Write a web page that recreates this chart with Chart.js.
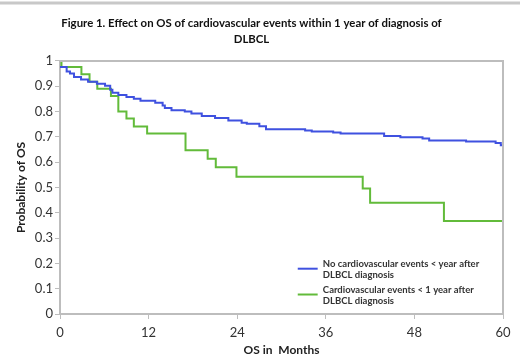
<!DOCTYPE html>
<html>
<head>
<meta charset="utf-8">
<script src="https://cdn.jsdelivr.net/npm/chart.js@4"></script>
<style>
  html, body { margin: 0; padding: 0; background: #fff; }
  #wrap { width: 520px; height: 357px; position: relative; }
</style>
</head>
<body>
<div id="wrap"><canvas id="km"></canvas></div>
<script>
// Kaplan-Meier steps (months, probability)
var monthsNoCV = [0, 0.9, 1.35, 1.9, 2.85, 3.8, 5.0, 6.1, 6.8, 7.1, 7.9, 9.0, 10.0, 10.9, 12.9, 13.9, 14.2, 15.1, 16.9, 17.8, 19.2, 21.0, 22.8, 24.6, 25.3, 27.0, 27.9, 33.2, 34.1, 37.0, 38.0, 43.9, 46.1, 49.1, 50.0, 55.0, 59.0, 59.7, 60];
var survNoCV   = [0.976, 0.958, 0.95, 0.936, 0.927, 0.918, 0.91, 0.902, 0.886, 0.874, 0.865, 0.857, 0.851, 0.843, 0.835, 0.824, 0.814, 0.805, 0.80, 0.792, 0.782, 0.774, 0.765, 0.756, 0.752, 0.742, 0.73, 0.725, 0.721, 0.717, 0.713, 0.703, 0.698, 0.693, 0.686, 0.682, 0.676, 0.667, 0.667];

var monthsCV = [0, 0.2, 2.9, 4.0, 5.05, 6.9, 7.9, 9.0, 10.0, 11.8, 17.0, 20.0, 21.1, 23.9, 41.0, 42.0, 52.0, 60];
var survCV   = [1.0, 0.976, 0.947, 0.918, 0.89, 0.861, 0.80, 0.772, 0.741, 0.713, 0.647, 0.613, 0.58, 0.542, 0.496, 0.44, 0.367, 0.367];

var xTicks = [0, 12, 24, 36, 48, 60];
var legendNoCV = ['No cardiovascular events < year after', 'DLBCL diagnosis'];
var legendCV = ['Cardiovascular events < 1 year after', 'DLBCL diagnosis'];

function toPoints(xs, ys) {
  return xs.map(function (x, i) { return { x: x, y: ys[i] }; });
}

var frame = {
  id: 'frame',
  beforeDraw: function (chart) {
    var c = chart.ctx;
    c.save();
    c.strokeStyle = '#c8c8c8';
    c.lineWidth = 3;
    c.beginPath();
    c.moveTo(0, 3); c.lineTo(520, 3);
    c.stroke();
    c.restore();
  },
  afterDatasetsDraw: function (chart) {
    var a = chart.chartArea, c = chart.ctx;
    c.save();
    c.strokeStyle = '#bdbdbd';
    c.lineWidth = 2;
    c.beginPath();
    c.moveTo(a.left, a.top); c.lineTo(a.right, a.top); c.lineTo(a.right, a.bottom);
    c.stroke();

    // legend inside plot, two-line labels
    var x = chart.scales.x, y = chart.scales.y;
    var rows = [
      { ds: chart.data.datasets[0], yy: y.getPixelForValue(0.179) },
      { ds: chart.data.datasets[1], yy: y.getPixelForValue(0.077) }
    ];
    c.font = 'bold 9.5px Lato, sans-serif';
    c.textBaseline = 'middle';
    c.fillStyle = '#333';
    rows.forEach(function (r) {
      c.strokeStyle = r.ds.borderColor;
      c.lineWidth = 2;
      c.beginPath();
      c.moveTo(x.getPixelForValue(32.2), r.yy); c.lineTo(x.getPixelForValue(34.9), r.yy);
      c.stroke();
      r.ds.legendLines.forEach(function (t, i) {
        c.fillText(t, x.getPixelForValue(35.6), r.yy - 5 + i * 11);
      });
    });
    c.restore();
  }
};

new Chart(document.getElementById('km').getContext('2d'), {
  type: 'line',
  data: {
    datasets: [{
      label: legendNoCV.join(' '),
      legendLines: legendNoCV,
      data: toPoints(monthsNoCV, survNoCV),
      borderColor: '#3f51e0',
      borderWidth: 2,
      stepped: true,
      pointRadius: 0,
      fill: false
    }, {
      label: legendCV.join(' '),
      legendLines: legendCV,
      data: toPoints(monthsCV, survCV),
      borderColor: '#62bb3a',
      borderWidth: 2,
      stepped: true,
      pointRadius: 0,
      fill: false
    }]
  },
  options: {
    responsive: true,
    maintainAspectRatio: false,
    animation: false,
    layout: { padding: { left: 0, right: 17, top: 0, bottom: 0 } },
    plugins: {
      legend: { display: false },
      tooltip: { enabled: false },
      title: {
        display: true,
        text: ['Figure 1. Effect on OS of cardiovascular events within 1 year of diagnosis of', 'DLBCL'],
        color: '#111',
        font: { family: 'Lato, sans-serif', size: 11.4, weight: 'bold', lineHeight: 1.4 },
        padding: { top: 15, bottom: 14 }
      }
    },
    scales: {
      x: {
        type: 'linear',
        min: 0, max: 60,
        afterBuildTicks: function (s) { s.ticks = xTicks.map(function (v) { return { value: v }; }); },
        afterFit: function (s) { s.height = 43; },
        border: { color: '#bdbdbd', width: 2 },
        grid: { drawOnChartArea: false, color: '#bdbdbd', tickLength: 5 },
        ticks: { color: '#333', font: { family: 'Lato, sans-serif', size: 13 }, padding: 6, maxRotation: 0 },
        title: { display: true, text: 'OS in  Months', color: '#222', font: { family: 'Lato, sans-serif', size: 12, weight: 'bold' }, padding: { top: 0, bottom: 0 } }
      },
      y: {
        min: 0, max: 1,
        afterFit: function (s) { s.width = 60; },
        border: { color: '#bdbdbd', width: 2 },
        grid: { drawOnChartArea: false, color: '#bdbdbd', tickLength: 5 },
        ticks: { stepSize: 0.1, color: '#333', font: { family: 'Lato, sans-serif', size: 13 }, padding: 2,
          callback: function (v) { return Math.round(v * 10) / 10; } },
        title: { display: true, text: 'Probability of OS', color: '#222', font: { family: 'Lato, sans-serif', size: 12, weight: 'bold' }, padding: { top: 14, bottom: 0 } }
      }
    }
  },
  plugins: [frame]
});
</script>
</body>
</html>
